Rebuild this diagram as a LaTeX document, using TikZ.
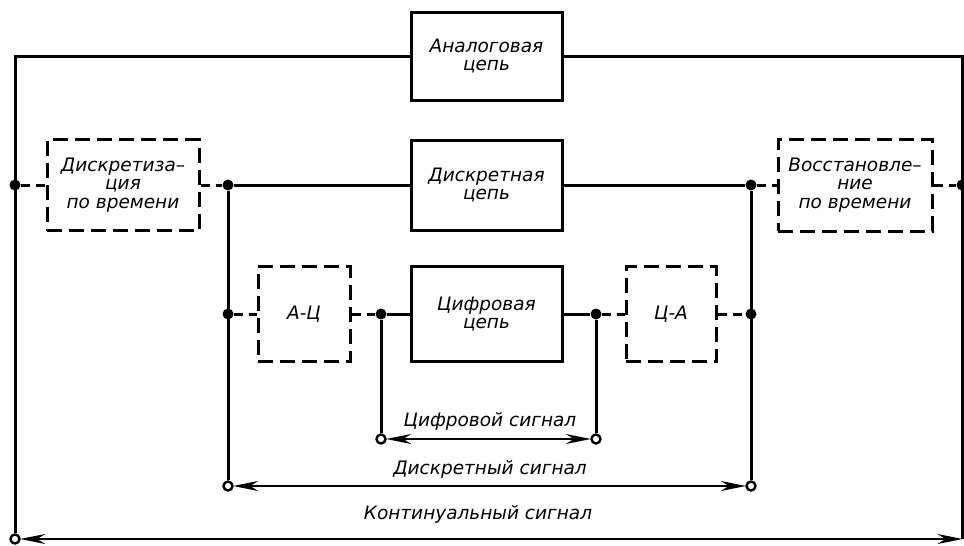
\documentclass[tikz,border=0pt]{standalone}
\usepackage{fontspec}
\setmainfont{DejaVu Sans}
\usetikzlibrary{arrows.meta}
\tikzset{
  lbl/.style={font=\itshape\fontsize{18.5}{18.5}\selectfont, align=center},
  blk/.style={lbl, draw, line width=3pt, rectangle, inner sep=0pt},
  dblk/.style={blk, dash pattern=on 15pt off 7pt},
  wire/.style={line width=3pt},
  dwire/.style={line width=3pt, dash pattern=on 9pt off 6pt},
  dot/.style={circle, fill=black, inner sep=0pt, minimum size=11pt},
  odot/.style={circle, draw, fill=white, line width=2.4pt, inner sep=0pt, minimum size=9pt},
  sig/.style={line width=2pt, {Stealth[length=25pt,width=10pt,inset=8pt]}-{Stealth[length=25pt,width=10pt,inset=8pt]}, shorten <=-0.5pt, shorten >=-0.5pt}
}
\begin{document}
\begin{tikzpicture}[x=1pt,y=-1pt]
\useasboundingbox (0,0) rectangle (964,546);
% boxes
\node[blk, minimum width=151pt, minimum height=88pt] (ana) at (486.5,56) {Аналоговая\\цепь};
\node[blk, minimum width=151pt, minimum height=90pt] (dis) at (486.5,185) {Дискретная\\цепь};
\node[blk, minimum width=151pt, minimum height=95pt] (dig) at (486.5,314) {Цифровая\\цепь};
\node[dblk, minimum width=152pt, minimum height=91pt] (smp) at (123,185) {Дискретиза–\\ция\\по времени};
\node[dblk, minimum width=154pt, minimum height=92pt] (rst) at (855,185) {Восстановле–\\ние\\по времени};
\node[dblk, minimum width=92pt, minimum height=95pt] (ac) at (304,314) {А-Ц};
\node[dblk, minimum width=90pt, minimum height=95pt] (ca) at (671,314) {Ц-А};
% junction dots
\node[dot] (l1) at (15,185) {};
\node[dot] (d1) at (228,185) {};
\node[dot] (d2) at (751,185) {};
\node[dot] (r1) at (962,185) {};
\node[dot] (e1) at (228,314) {};
\node[dot] (e2) at (381,314) {};
\node[dot] (e3) at (596,314) {};
\node[dot] (e4) at (751,314) {};
% open terminals
\node[odot] (g1) at (381,439) {};
\node[odot] (g2) at (596,439) {};
\node[odot] (h1) at (228,486) {};
\node[odot] (h2) at (751,486) {};
\node[odot] (k1) at (15,539) {};
\coordinate (k2) at (962,539);
% top analog loop
\draw[wire] (ana.west) -| (k1);
\draw[wire] (ana.east) -| (k2);
% discrete row
\draw[dwire] (l1) -- (smp.west);
\draw[dwire] (smp.east) -- (d1);
\draw[wire] (d1) -- (dis.west);
\draw[wire] (dis.east) -- (d2);
\draw[dwire] (d2) -- (rst.west);
\draw[dwire] (rst.east) -- (r1);
% verticals
\draw[wire] (d1) -- (h1);
\draw[wire] (d2) -- (h2);
\draw[wire] (e2) -- (g1);
\draw[wire] (e3) -- (g2);
% digital row
\draw[dwire] (e1) -- (ac.west);
\draw[dwire] (ac.east) -- (e2);
\draw[wire] (e2) -- (dig.west);
\draw[wire] (dig.east) -- (e3);
\draw[dwire] (e3) -- (ca.west);
\draw[dwire] (ca.east) -- (e4);
% signal arrows
\draw[sig] (g1) -- (g2);
\draw[sig] (h1) -- (h2);
\draw[sig] (k1) -- (k2);
% labels
\node[lbl] (t1) at (490,421) {Цифровой сигнал};
\node[lbl] (t2) at (490,469) {Дискретный сигнал};
\node[lbl] (t3) at (478,514) {Континуальный сигнал};
\end{tikzpicture}
\end{document}
